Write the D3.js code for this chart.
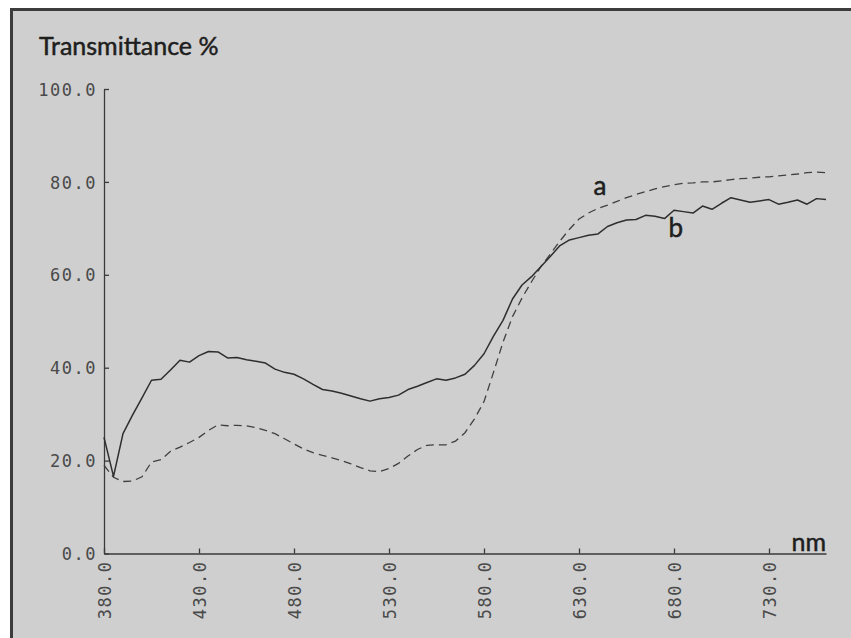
<!DOCTYPE html>
<html>
<head>
<meta charset="utf-8">
<script src="https://cdn.jsdelivr.net/npm/d3@7"></script>
<style>
  html, body { margin: 0; padding: 0; background: #fff; }
  svg { display: block; }
  .tick text { font-family: "DejaVu Sans Mono", monospace; font-size: 17px; fill: #4a4a4a; letter-spacing: 1.5px; }
  .tick line, .domain { stroke: #3a3a3a; stroke-width: 1.3; }
</style>
</head>
<body>
<svg id="chart" width="851" height="638"></svg>
<script>
// wavelengths in nm, every 5 nm
const wavelengths = d3.range(380, 761, 5);

// curve a (dashed)
const seriesA = [
  19.0, 16.4, 15.5, 15.6, 16.5, 19.7, 20.2, 22.0, 22.9, 23.9,
  25.0, 26.5, 27.7, 27.5, 27.6, 27.5, 27.1, 26.5, 25.8, 24.7,
  23.6, 22.5, 21.7, 21.1, 20.6, 20.0, 19.3, 18.5, 17.8, 17.6,
  18.3, 19.4, 21.0, 22.4, 23.3, 23.4, 23.4, 24.2, 26.0, 29.0,
  32.7, 39.0, 45.5, 51.0, 55.0, 58.5, 61.8, 64.5, 67.3, 69.8,
  72.0, 73.3, 74.3, 75.0, 75.8, 76.6, 77.3, 77.9, 78.5, 79.0,
  79.4, 79.7, 79.8, 80.0, 80.0, 80.2, 80.5, 80.7, 80.8, 81.0,
  81.1, 81.3, 81.5, 81.7, 82.0, 82.1, 82.0
];

// curve b (solid)
const seriesB = [
  25.0, 16.6, 25.8, 29.8, 33.5, 37.3, 37.5, 39.5, 41.6, 41.2,
  42.6, 43.5, 43.4, 42.1, 42.2, 41.7, 41.4, 41.0, 39.7, 39.0,
  38.6, 37.6, 36.4, 35.3, 35.0, 34.5, 33.9, 33.3, 32.8, 33.3,
  33.6, 34.1, 35.3, 36.0, 36.8, 37.6, 37.3, 37.8, 38.6, 40.5,
  43.0, 46.8, 50.2, 54.8, 57.8, 59.6, 61.8, 64.0, 66.3, 67.5,
  68.0, 68.5, 68.8, 70.4, 71.2, 71.8, 71.9, 72.8, 72.6, 72.1,
  73.9, 73.6, 73.3, 74.8, 74.1, 75.4, 76.6, 76.1, 75.6, 75.9,
  76.2, 75.2, 75.6, 76.1, 75.2, 76.4, 76.2
];

const xTicks = [380, 430, 480, 530, 580, 630, 680, 730];
const yTicks = [0, 20, 40, 60, 80, 100];

const svg = d3.select("#chart");

// paper + frame
svg.append("rect").attr("x", 10).attr("y", 8).attr("width", 841).attr("height", 630).attr("fill", "#3c3c3c");
svg.append("rect").attr("x", 13).attr("y", 11).attr("width", 838).attr("height", 627).attr("fill", "#cfcfcf");

const x = d3.scaleLinear().domain([380, 760]).range([104, 826]);
const y = d3.scaleLinear().domain([0, 100]).range([553.5, 89]);

// y axis, ticks pointing inward
svg.append("g")
  .attr("transform", "translate(104,0)")
  .call(d3.axisLeft(y).tickValues(yTicks).tickSizeInner(-5).tickSizeOuter(0).tickPadding(7)
    .tickFormat(d3.format(".1f")))
  .call(g => g.selectAll(".tick text").attr("dy", "0.36em"));

// x axis, ticks pointing inward, labels rotated
svg.append("g")
  .attr("transform", "translate(0,553.5)")
  .call(d3.axisBottom(x).tickValues(xTicks).tickSizeInner(-5).tickSizeOuter(0)
    .tickFormat(d3.format(".1f")))
  .call(g => g.selectAll(".tick text")
    .attr("transform", "rotate(-90)")
    .attr("text-anchor", "end")
    .attr("x", -7)
    .attr("y", 0)
    .attr("dy", "0.36em"));

svg.selectAll(".domain").attr("fill", "none");

const line = d3.line()
  .x((d, i) => x(wavelengths[i]))
  .y(d => y(d));

svg.append("path")
  .datum(seriesA)
  .attr("d", line)
  .attr("fill", "none")
  .attr("stroke", "#404040")
  .attr("stroke-width", 1.3)
  .attr("stroke-dasharray", "8,5");

svg.append("path")
  .datum(seriesB)
  .attr("d", line)
  .attr("fill", "none")
  .attr("stroke", "#2e2e2e")
  .attr("stroke-width", 1.5)
  .attr("stroke-linejoin", "round");

// labels
const label = (txt, px, py, size, anchor) => svg.append("text")
  .text(txt)
  .attr("x", px).attr("y", py)
  .attr("text-anchor", anchor || "start")
  .attr("font-family", "Lato, 'Noto Sans', sans-serif")
  .attr("font-size", size)
  .attr("fill", "#1e1e1e")
  .attr("stroke", "#1e1e1e")
  .attr("stroke-width", 0.5);

label("Transmittance %", 39, 55, 25);
label("nm", 826, 551, 25, "end");
label("a", x(641), y(77.2), 26, "middle");
label("b", x(681), y(68.2), 26, "middle");
</script>
</body>
</html>
